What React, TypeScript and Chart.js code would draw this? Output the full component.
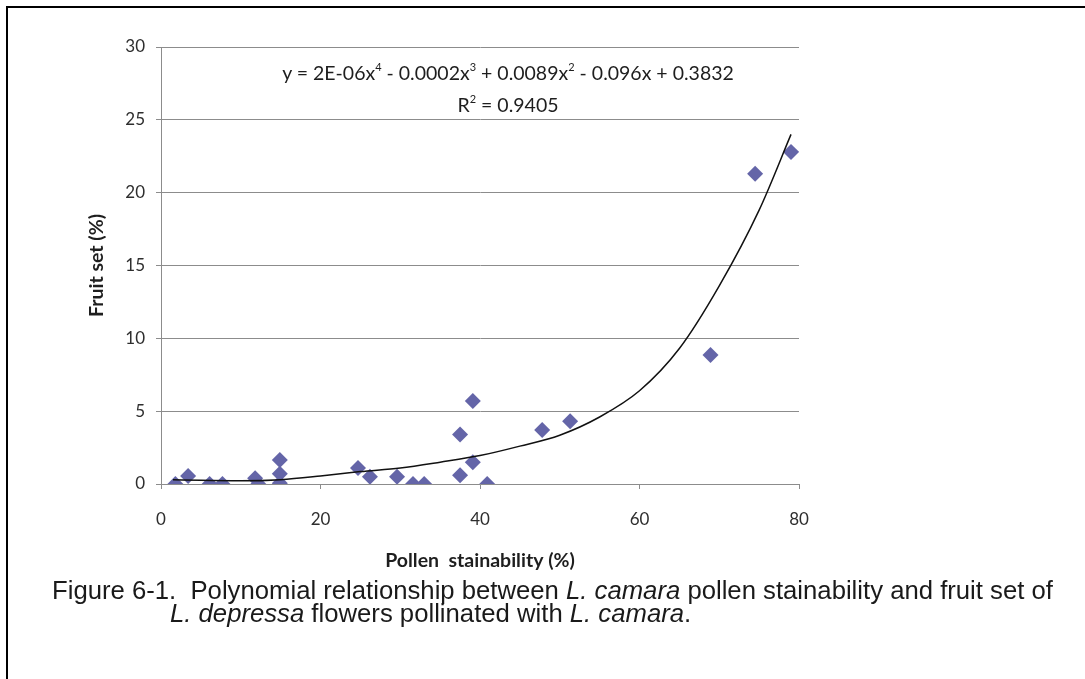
import React, { useEffect, useRef } from "react";
import { Chart, registerables } from "chart.js";
Chart.register(...registerables);

// Scatter observations: pollen stainability (%) vs fruit set (%)
const pollenStainability = [1.8, 3.4, 6.1, 7.7, 11.8, 12.2, 14.9, 14.9, 14.9, 24.7, 26.2, 29.6, 31.6, 33.0, 37.5, 37.5, 39.1, 39.1, 40.9, 47.8, 51.3, 68.9, 74.5, 79.0];
const fruitSet = [0, 0.55, 0, 0, 0.4, 0, 1.65, 0.7, 0.05, 1.1, 0.5, 0.5, 0, 0, 3.4, 0.6, 5.7, 1.5, 0, 3.7, 4.3, 8.85, 21.3, 22.8];

// Polynomial trend line
const trendX = [1.5, 5, 10, 15, 20, 25, 30, 35, 40, 45, 50, 55, 60, 65, 70, 75, 79];
const trendY = [0.3, 0.25, 0.22, 0.3, 0.55, 0.85, 1.1, 1.5, 1.95, 2.6, 3.35, 4.6, 6.4, 9.3, 13.6, 18.8, 24.0];

const xTicks = [0, 20, 40, 60, 80];
const yTicks = [0, 5, 10, 15, 20, 25, 30];

const xTitle = "Pollen  stainability (%)";
const yTitle = "Fruit set (%)";

export default function App() {
  const ref = useRef<HTMLCanvasElement>(null);

  useEffect(() => {
    if (!ref.current) return;
    const axisGray = "#8c8c8c";
    const tickColor = "#2e2e2e";
    const chart = new Chart(ref.current, {
      type: "scatter",
      data: {
        datasets: [
          {
            label: "trend",
            type: "line",
            data: trendX.map((x, i) => ({ x, y: trendY[i] })),
            borderColor: "#111",
            borderWidth: 1.5,
            pointRadius: 0,
            cubicInterpolationMode: "monotone",
            fill: false,
            order: 0,
          } as any,
          {
            label: "observations",
            data: pollenStainability.map((x, i) => ({ x, y: fruitSet[i] })),
            pointStyle: "rectRot",
            pointRadius: 8,
            backgroundColor: "#6465a8",
            borderWidth: 0,
            order: 1,
          } as any,
        ],
      },
      options: {
        responsive: false,
        animation: false,
        layout: { padding: { left: 85, top: 47, right: 286, bottom: 107 } },
        plugins: { legend: { display: false }, tooltip: { enabled: false } },
        scales: {
          x: {
            type: "linear",
            min: 0,
            max: 80,
            afterBuildTicks: (s: any) => {
              s.ticks = xTicks.map((v) => ({ value: v }));
            },
            afterFit: (s: any) => {
              s.height = 88;
            },
            ticks: { color: tickColor, font: { family: "Lato", size: 17 }, padding: 20 },
            grid: { drawOnChartArea: false, drawTicks: true, tickLength: 5, color: axisGray },
            border: { color: axisGray, width: 1 },
            title: {
              display: true,
              text: xTitle,
              color: "#1e1e1e",
              font: { family: "Lato", size: 19.5, weight: "bold" },
              padding: 0,
            },
          },
          y: {
            type: "linear",
            min: 0,
            max: 30,
            afterBuildTicks: (s: any) => {
              s.ticks = yTicks.map((v) => ({ value: v }));
            },
            afterFit: (s: any) => {
              s.width = 76;
            },
            ticks: { color: tickColor, font: { family: "Lato", size: 17 }, padding: 11 },
            grid: { color: axisGray, tickLength: 5, lineWidth: 1 },
            border: { color: axisGray, width: 1 },
            title: {
              display: true,
              text: yTitle,
              color: "#1e1e1e",
              font: { family: "Lato", size: 19.5, weight: "bold" },
              padding: 0,
            },
          },
        },
      },
    });
    return () => chart.destroy();
  }, []);

  const eqStyle: React.CSSProperties = {
    position: "absolute",
    left: 0,
    width: 1016,
    textAlign: "center",
    fontFamily: "Lato",
    fontSize: 19.5,
    color: "#1e1e1e",
    lineHeight: "24px",
    whiteSpace: "nowrap",
  };
  const sup: React.CSSProperties = { fontSize: 11, verticalAlign: "9px", lineHeight: 0 };
  const capStyle: React.CSSProperties = {
    position: "absolute",
    fontFamily: "'Liberation Sans', Arial, sans-serif",
    fontSize: 25.7,
    color: "#1a1a1a",
    lineHeight: "24px",
    whiteSpace: "nowrap",
  };

  return (
    <div style={{ position: "fixed", left: 0, top: 0, width: 1085, height: 679, background: "#fff", overflow: "hidden" }}>
      <div style={{ position: "absolute", left: 6, top: 6, right: -10, bottom: -10, borderLeft: "2px solid #000", borderTop: "2px solid #000" }} />
      <canvas ref={ref} width={1085} height={679} style={{ position: "absolute", left: 0, top: 0, width: 1085, height: 679 }} />
      <div style={{ ...eqStyle, top: 61 }}>
        y = 2E-06x<span style={sup}>4</span> - 0.0002x<span style={sup}>3</span> + 0.0089x<span style={sup}>2</span> - 0.096x + 0.3832
      </div>
      <div style={{ ...eqStyle, top: 93 }}>
        R<span style={sup}>2</span> = 0.9405
      </div>
      <div style={{ ...capStyle, left: 52, top: 578 }}>
        Figure 6-1.&nbsp; Polynomial relationship between <i>L. camara</i> pollen stainability and fruit set of
      </div>
      <div style={{ ...capStyle, left: 170, top: 601 }}>
        <i>L. depressa</i> flowers pollinated with <i>L. camara</i>.
      </div>
    </div>
  );
}
